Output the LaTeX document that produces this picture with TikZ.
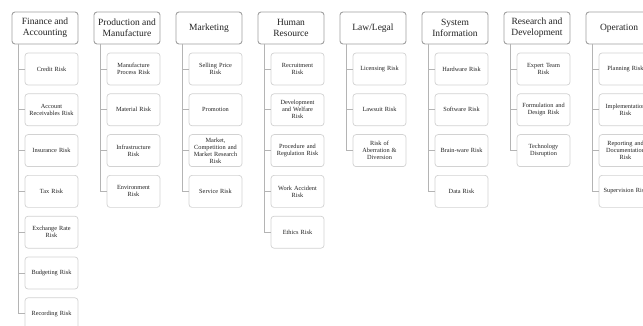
\documentclass[tikz,border=0pt]{standalone}
\usepackage{fontspec}
\setmainfont{Liberation Serif}
\definecolor{topline}{HTML}{A0A0A0}
\definecolor{subline}{HTML}{D2D2D2}
\definecolor{conline}{HTML}{B4B4B4}
\definecolor{txt}{HTML}{222222}
\tikzset{
  headbox/.style={draw=topline, line width=0.9pt, rounded corners=3pt, fill=white,
    minimum width=66pt, minimum height=32pt, inner sep=1pt, align=center, text=txt,
    font=\fontsize{9.5}{11}\selectfont},
  riskbox/.style={draw=subline, line width=0.7pt, rounded corners=3pt, fill=white,
    minimum width=53pt, minimum height=32pt, inner sep=1pt, text width=51pt, align=center, text=txt,
    font=\fontsize{6.3}{7}\selectfont},
  link/.style={draw=conline, line width=0.7pt}
}
\begin{document}
\begin{tikzpicture}[x=1pt,y=-1pt]
\useasboundingbox (0,0) rectangle (643,326);
\clip (0,0) rectangle (643,326);
% column 1
\node[headbox] (h1) at (45,28) {Finance and\\Accounting};
\node[riskbox] (c11) at (51.5,69) {Credit Risk};
\node[riskbox] (c12) at (51.5,109.8) {Account\\Receivables Risk};
\node[riskbox] (c13) at (51.5,150.6) {Insurance Risk};
\node[riskbox] (c14) at (51.5,191.4) {Tax Risk};
\node[riskbox] (c15) at (51.5,232.2) {Exchange Rate\\Risk};
\node[riskbox] (c16) at (51.5,273) {Budgeting Risk};
\node[riskbox] (c17) at (51.5,313.8) {Recording Risk};
% column 2
\node[headbox] (h2) at (127,28) {Production and\\Manufacture};
\node[riskbox] (c21) at (133.5,69) {Manufacture\\Process Risk};
\node[riskbox] (c22) at (133.5,109.8) {Material Risk};
\node[riskbox] (c23) at (133.5,150.6) {Infrastructure\\Risk};
\node[riskbox] (c24) at (133.5,191.4) {Environment\\Risk};
% column 3
\node[headbox] (h3) at (209,28) {Marketing};
\node[riskbox] (c31) at (215.5,69) {Selling Price\\Risk};
\node[riskbox] (c32) at (215.5,109.8) {Promotion};
\node[riskbox] (c33) at (215.5,150.6) {Market,\\Competition and\\Market Research\\Risk};
\node[riskbox] (c34) at (215.5,191.4) {Service Risk};
% column 4
\node[headbox] (h4) at (291,28) {Human\\Resource};
\node[riskbox] (c41) at (297.5,69) {Recruitment\\Risk};
\node[riskbox] (c42) at (297.5,109.8) {Development\\and Welfare\\Risk};
\node[riskbox] (c43) at (297.5,150.6) {Procedure and\\Regulation Risk};
\node[riskbox] (c44) at (297.5,191.4) {Work Accident\\Risk};
\node[riskbox] (c45) at (297.5,232.2) {Ethics Risk};
% column 5
\node[headbox] (h5) at (373,28) {Law/Legal};
\node[riskbox] (c51) at (379.5,69) {Licensing Risk};
\node[riskbox] (c52) at (379.5,109.8) {Lawsuit Risk};
\node[riskbox] (c53) at (379.5,150.6) {Risk of\\Aberration \&\\Diversion};
% column 6
\node[headbox] (h6) at (455,28) {System\\Information};
\node[riskbox] (c61) at (461.5,69) {Hardware Risk};
\node[riskbox] (c62) at (461.5,109.8) {Software Risk};
\node[riskbox] (c63) at (461.5,150.6) {Brain-ware Risk};
\node[riskbox] (c64) at (461.5,191.4) {Data Risk};
% column 7
\node[headbox] (h7) at (537,28) {Research and\\Development};
\node[riskbox] (c71) at (543.5,69) {Expert Team\\Risk};
\node[riskbox] (c72) at (543.5,109.8) {Formulation and\\Design Risk};
\node[riskbox] (c73) at (543.5,150.6) {Technology\\Disruption};
% column 8
\node[headbox] (h8) at (619,28) {Operation};
\node[riskbox] (c81) at (625.5,69) {Planning Risk};
\node[riskbox] (c82) at (625.5,109.8) {Implementation\\Risk};
\node[riskbox] (c83) at (625.5,150.6) {Reporting and\\Documentation\\Risk};
\node[riskbox] (c84) at (625.5,191.4) {Supervision Risk};
% connectors
\foreach \h/\list in {h1/{c11,c12,c13,c14,c15,c16,c17}, h2/{c21,c22,c23,c24},
  h3/{c31,c32,c33,c34}, h4/{c41,c42,c43,c44,c45}, h5/{c51,c52,c53},
  h6/{c61,c62,c63,c64}, h7/{c71,c72,c73}, h8/{c81,c82,c83,c84}} {
  \foreach \c in \list {
    \draw[link] ([xshift=7pt]\h.south west) |- (\c.west);
  }
}
\end{tikzpicture}
\end{document}
